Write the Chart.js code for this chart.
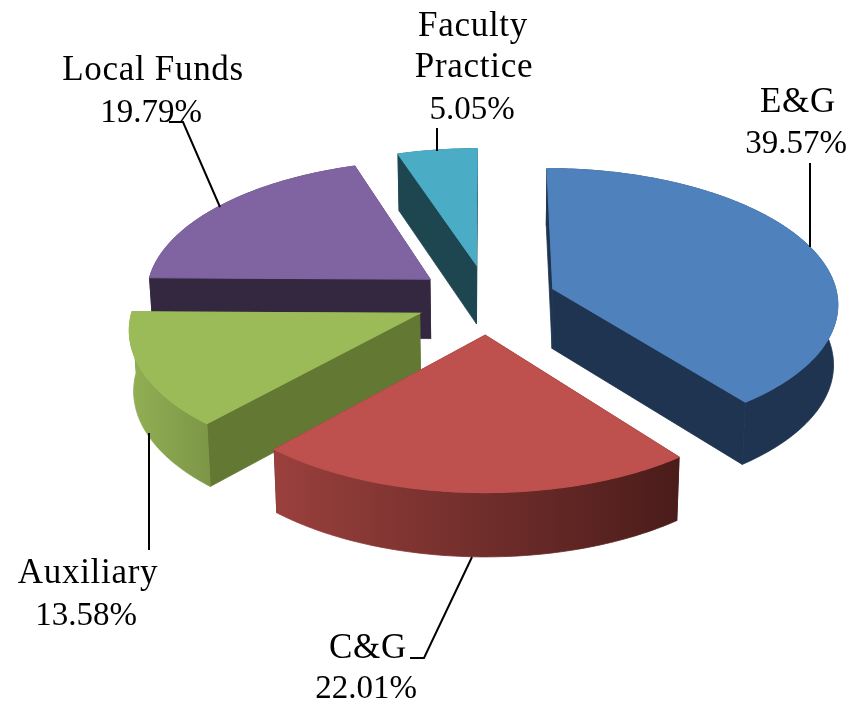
<!DOCTYPE html>
<html><head><meta charset="utf-8">
<style>html,body{margin:0;padding:0;background:#fff}canvas{display:block}</style>
<script src="https://cdn.jsdelivr.net/npm/chart.js@4"></script>
</head><body><canvas id="c" width="858" height="704"></canvas>
<script>
const categories = ['E&G','C&G','Auxiliary','Local Funds','Faculty Practice'];
const shares = [39.57,22.01,13.58,19.79,5.05];
const topColors = ['#4F81BD','#BE504D','#9BBB59','#8064A2','#4BACC6'];
const faceColors = ['#1E3450','#5a2320','#637833','#33283F','#1E4650'];
const wallLeft = ['#1E3450','#9A403D','#92B054','#33283F','#1E4650'];
const wallRight = ['#1E3450','#4A1C1A','#7C9647','#33283F','#1E4650'];
const explode = [69,75,74,73,76];
const paintOrder = [3,4,0,2,1];
const labelLines = [
  [['E&G',798,112],['39.57%',796,153]],
  [['C&G',368,658],['22.01%',366,698]],
  [['Auxiliary',88,583],['13.58%',86,625]],
  [['Local Funds',153,80],['19.79%',151,122]],
  [['Faculty',473,36],['Practice',474,77],['5.05%',472,119]]
];
const leaders = [
  [[810,163],[810,247]],
  [[410,658],[424,658],[472,557]],
  [[149,433],[149,550]],
  [[169,122],[183,122],[220,207]],
  [[437,128],[437,151]]
];
const tilt = 0.47, persp = 0.00035, depth = 60, lowShrink = 0.988;

function drawPie(chart){
  const ctx = chart.ctx, arcs = chart.getDatasetMeta(0).data;
  const proj = (el,X,Y,low)=>{
    const s = 1/(1-persp*Y);
    return [el.x+X*s*(low?lowShrink:1), el.y+tilt*Y*s+(low?depth*(0.5+0.5*s):0)];
  };
  const poly = pts=>{ctx.beginPath();pts.forEach((p,i)=>i?ctx.lineTo(p[0],p[1]):ctx.moveTo(p[0],p[1]));ctx.closePath();};
  paintOrder.forEach(i=>{
    const el = arcs[i], a0 = el.startAngle, a1 = el.endAngle, r = el.outerRadius, mid = (a0+a1)/2, off = el.options.offset;
    const ox = off*Math.cos(mid), oy = off*Math.sin(mid);
    const rimAngles = []; const n = Math.ceil((a1-a0)*60);
    for(let j=0;j<=n;j++) rimAngles.push(a0+(a1-a0)*j/n);
    const rim = low=>rimAngles.map(a=>proj(el,ox+r*Math.cos(a),oy+r*Math.sin(a),low));
    const apex = proj(el,ox,oy,false), apexLow = proj(el,ox,oy,true);
    const top = rim(false), bot = rim(true);
    ctx.lineWidth = 0.8;
    ctx.fillStyle = faceColors[i]; ctx.strokeStyle = faceColors[i];
    poly([apex,top[0],bot[0],apexLow]); ctx.fill(); ctx.stroke();
    poly([apex,top[n],bot[n],apexLow]); ctx.fill(); ctx.stroke();
    const xs = bot.concat(top).map(p=>p[0]);
    const g = ctx.createLinearGradient(Math.min(...xs),0,Math.max(...xs),0);
    g.addColorStop(0,wallLeft[i]); g.addColorStop(1,wallRight[i]);
    ctx.fillStyle = g; ctx.strokeStyle = g;
    poly(top.concat(bot.slice().reverse())); ctx.fill(); ctx.stroke();
    ctx.fillStyle = el.options.backgroundColor; ctx.strokeStyle = el.options.backgroundColor;
    ctx.lineWidth = 1.2;
    poly([apex].concat(top)); ctx.fill(); ctx.stroke();
  });
}
function drawNotes(chart){
  const ctx = chart.ctx;
  ctx.save();
  ctx.fillStyle='#000';ctx.textAlign='center';ctx.textBaseline='alphabetic';
  labelLines.forEach(group=>group.forEach(t=>{
    const pct = t[0].endsWith('%');
    ctx.font = (pct ? '33px' : '35px') + ' "Liberation Serif"';
    ctx.letterSpacing = pct ? '0px' : '0.7px';
    ctx.fillText(t[0],t[1],t[2]);
  }));
  ctx.strokeStyle='#000';ctx.lineWidth=2;ctx.lineJoin='miter';
  leaders.forEach(l=>{ctx.beginPath();l.forEach((p,i)=>i?ctx.lineTo(p[0],p[1]):ctx.moveTo(p[0],p[1]));ctx.stroke();});
  ctx.restore();
}
new Chart(document.getElementById('c'),{
  type:'pie',
  data:{labels:categories,datasets:[{data:shares,backgroundColor:topColors,borderWidth:0,offset:explode}]},
  options:{responsive:false,animation:false,radius:285,
    layout:{padding:{left:118,bottom:106}},
    plugins:{legend:{display:false},tooltip:{enabled:false}}},
  plugins:[{id:'pie3d',beforeDatasetsDraw(chart){drawPie(chart);drawNotes(chart);return false;}}]
});
</script></body></html>
